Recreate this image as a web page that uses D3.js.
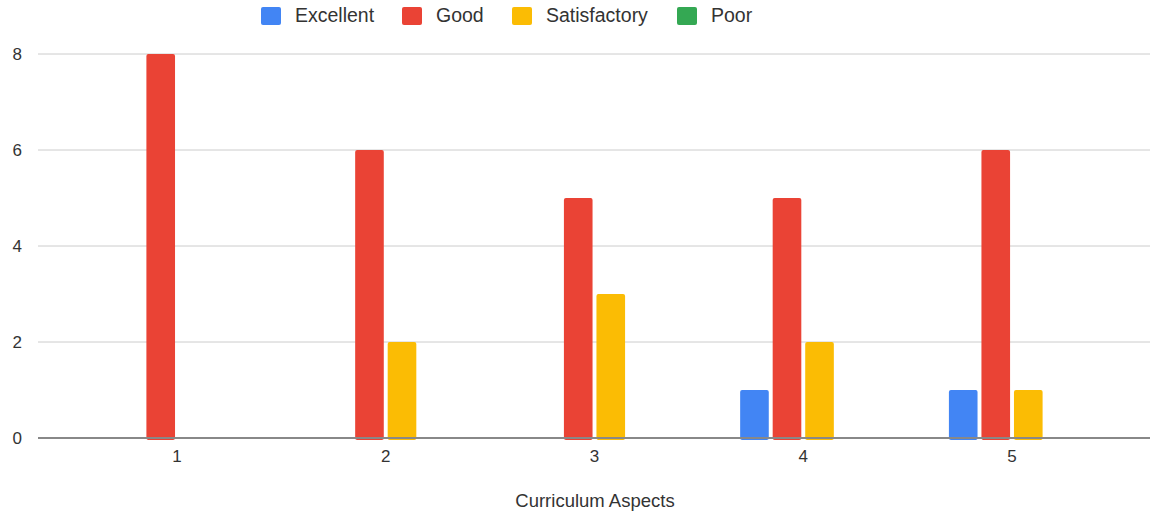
<!DOCTYPE html>
<html>
<head>
  <meta charset="UTF-8">
  <style>
    body { margin: 0; background: #fff; }
    svg { font-family: Arial, "Liberation Sans", sans-serif; }
  </style>
</head>
<body>
<svg></svg>
<script src="https://d3js.org/d3.v7.min.js"></script>
<script>

// chart data
let categories = ["1", "2", "3", "4", "5"];
let seriesNames = ["Excellent", "Good", "Satisfactory", "Poor"];
let excellent = [0, 0, 0, 1, 1];
let good = [8, 6, 5, 5, 6];
let satisfactory = [0, 2, 3, 2, 1];
let poor = [0, 0, 0, 0, 0];
let yTicks = [0, 2, 4, 6, 8];
let colors = ["#4285F4", "#EA4335", "#FBBC04", "#34A853"];

let width = 1155, height = 516;

let svg = d3.select("svg")
    .attr("width", width)
    .attr("height", height);

let series = [excellent, good, satisfactory, poor];
let rows = categories.map((c, i) => ({
  cat: c,
  values: seriesNames.map((s, j) => ({ key: s, value: series[j][i], color: colors[j] }))
}));

let x = d3.scaleBand()
    .domain(categories)
    .range([72.6, 1116.4])
    .paddingInner(0.358)
    .paddingOuter(0.179);

let xSub = d3.scaleBand()
    .domain(seriesNames)
    .range([0, x.bandwidth()])
    .padding(0.12);

let y = d3.scaleLinear()
    .domain([0, 8])
    .range([438, 54]);

// gridlines
svg.append("g")
    .selectAll("line")
    .data(yTicks.filter(d => d > 0))
    .enter()
    .append("line")
    .attr("x1", 38).attr("x2", 1150)
    .attr("y1", d => y(d)).attr("y2", d => y(d))
    .attr("stroke", "#cccccc")
    .attr("stroke-width", 1);

// y labels
svg.append("g")
    .selectAll("text")
    .data(yTicks)
    .enter()
    .append("text")
    .attr("x", 22)
    .attr("y", d => y(d) + 6)
    .attr("text-anchor", "end")
    .attr("font-size", 17)
    .attr("fill", "#333")
    .text(d => d);

// bars
let groups = svg.append("g")
    .selectAll("g")
    .data(rows)
    .enter()
    .append("g")
    .attr("transform", d => "translate(" + x(d.cat) + ",0)");

groups.selectAll("rect")
    .data(d => d.values.filter(v => v.value > 0))
    .enter()
    .append("rect")
    .attr("x", d => xSub(d.key))
    .attr("y", d => y(d.value))
    .attr("width", xSub.bandwidth())
    .attr("height", d => y(0) - y(d.value) + 2)
    .attr("rx", 2)
    .attr("fill", d => d.color);

// baseline
svg.append("line")
    .attr("x1", 38).attr("x2", 1150)
    .attr("y1", y(0)).attr("y2", y(0))
    .attr("stroke", "#888")
    .attr("stroke-width", 2);

// x labels
svg.append("g")
    .selectAll("text")
    .data(categories)
    .enter()
    .append("text")
    .attr("x", d => x(d) + x.bandwidth() / 2)
    .attr("y", 462)
    .attr("text-anchor", "middle")
    .attr("font-size", 17)
    .attr("fill", "#333")
    .text(d => d);

// axis title
svg.append("text")
    .attr("x", 595)
    .attr("y", 507)
    .attr("text-anchor", "middle")
    .attr("font-size", 18.5)
    .attr("fill", "#333")
    .text("Curriculum Aspects");

// legend
let legendX = [261, 402, 512, 677];
let legend = svg.append("g")
    .selectAll("g")
    .data(seriesNames)
    .enter()
    .append("g")
    .attr("transform", (d, i) => "translate(" + legendX[i] + ",7)");

legend.append("rect")
    .attr("width", 20).attr("height", 18)
    .attr("rx", 2)
    .attr("fill", (d, i) => colors[i]);

legend.append("text")
    .attr("x", 34)
    .attr("y", 15)
    .attr("font-size", 19.5)
    .attr("fill", "#333")
    .text(d => d);

</script>
</body>
</html>
